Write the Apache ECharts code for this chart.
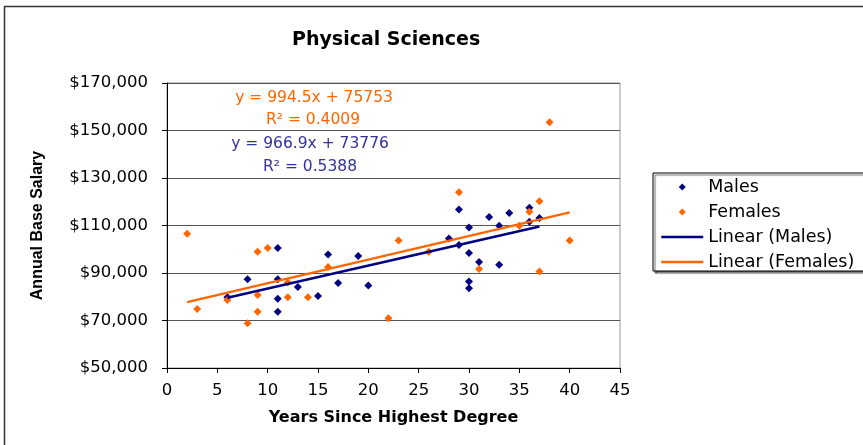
<!DOCTYPE html>
<html>
<head>
<meta charset="utf-8">
<title>Physical Sciences</title>
<script src="https://cdn.jsdelivr.net/npm/echarts@6/dist/echarts.min.js"></script>
<style>
  html, body { margin: 0; padding: 0; background: #fff; }
  #chart { width: 863px; height: 445px; }
</style>
</head>
<body>
<div id="chart"></div>
<script>
  // years since highest degree -> annual base salary
  var maleYears = [6, 8, 11, 11, 11, 11, 13, 15, 16, 17, 19, 20, 28, 29, 29, 30, 30, 30, 30, 31, 32, 33, 33, 34, 36, 36, 37];
  var maleSalary = [79800, 87400, 100500, 87400, 79200, 73700, 84100, 80300, 97800, 85800, 97200, 84700, 104500, 116700, 101800,
    109200, 98400, 86400, 83600, 94600, 113600, 109900, 93500, 115300, 117500, 111600, 113200];

  var femaleYears = [2, 3, 6, 8, 9, 9, 9, 10, 12, 12, 14, 16, 22, 23, 26, 29, 31, 35, 36, 37, 37, 38, 40];
  var femaleSalary = [106500, 74800, 78600, 68800, 98900, 80700, 73700, 100500, 86000, 79800, 79800, 92500, 71000, 103700,
    98900, 124000, 91700, 109900, 115800, 120200, 90600, 153500, 103700];

  // trendline coefficients as printed on the chart
  var maleFit = { slope: 966.9, intercept: 73776, r2: '0.5388' };
  var femaleFit = { slope: 994.5, intercept: 75753, r2: '0.4009' };

  var seriesNames = ['Males', 'Females', 'Linear (Males)', 'Linear (Females)'];

  var MALE = '#000080', FEMALE = '#ff6600';
  // diamond as a path so the legend keeps it square
  var DIAMOND = 'path://M0,-1L1,0L0,1L-1,0Z';
  var noMarker = { color: 'rgba(0,0,0,0)', borderWidth: 0 };

  function pairs(xs, ys) {
    return xs.map(function (x, i) { return [x, ys[i]]; });
  }
  function trend(fit, xs) {
    var lo = Math.min.apply(null, xs), hi = Math.max.apply(null, xs);
    return [[lo, fit.slope * lo + fit.intercept], [hi, fit.slope * hi + fit.intercept]];
  }
  function eq(fit) {
    return 'y = ' + fit.slope + 'x + ' + fit.intercept;
  }
  function money(v) {
    return '$' + v.toLocaleString('en-US');
  }

  var chart = echarts.init(document.getElementById('chart'));
  chart.setOption({
    animation: false,
    backgroundColor: '#fff',
    title: {
      text: 'Physical Sciences',
      left: 287, top: 26,
      textStyle: { fontFamily: 'DejaVu Sans', fontWeight: 'bold', fontSize: 19, color: '#000' }
    },
    legend: {
      orient: 'vertical',
      left: 653, top: 173,
      padding: [5, 40, 0, 7],
      itemWidth: 42, itemHeight: 7, itemGap: 7,
      symbolKeepAspect: true,
      backgroundColor: '#fff',
      borderColor: '#000', borderWidth: 1,
      shadowColor: 'rgba(0,0,0,0.6)', shadowBlur: 1, shadowOffsetX: 2, shadowOffsetY: 2,
      textStyle: { fontFamily: 'DejaVu Sans', fontSize: 17.5, lineHeight: 17, color: '#000' },
      data: [
        { name: seriesNames[0], icon: DIAMOND },
        { name: seriesNames[1], icon: DIAMOND },
        { name: seriesNames[2], itemStyle: noMarker, lineStyle: { width: 2.5 } },
        { name: seriesNames[3], itemStyle: noMarker, lineStyle: { width: 2.5 } }
      ]
    },
    grid: {
      left: 167, right: 243, top: 83, bottom: 77,
      show: true, borderColor: '#999', borderWidth: 1
    },
    xAxis: {
      type: 'value', min: 0, max: 45, interval: 5,
      name: 'Years Since Highest Degree', nameLocation: 'middle', nameGap: 42,
      nameTextStyle: { fontFamily: 'DejaVu Sans', fontWeight: 'bold', fontSize: 16, color: '#000' },
      axisLine: { lineStyle: { color: '#000', width: 1 } },
      axisTick: { length: 5, lineStyle: { color: '#000' } },
      axisLabel: { margin: 14, fontFamily: 'DejaVu Sans', fontSize: 16.5, color: '#000' },
      splitLine: { show: false }
    },
    yAxis: {
      type: 'value', min: 50000, max: 170000, interval: 20000,
      name: 'Annual Base Salary', nameLocation: 'middle', nameGap: 121, nameRotate: 90,
      nameTextStyle: { fontFamily: 'Liberation Sans', fontWeight: 'bold', fontSize: 16, color: '#000' },
      axisLine: { show: true, lineStyle: { color: '#000', width: 1 } },
      axisTick: { show: true, length: 5, lineStyle: { color: '#000' } },
      axisLabel: { margin: 19, fontFamily: 'DejaVu Sans', fontSize: 16.5, color: '#000', formatter: money },
      splitLine: { lineStyle: { color: '#555', width: 1 } }
    },
    graphic: [
      { type: 'rect', z: -10, silent: true,
        shape: { x: 4.5, y: 6.5, width: 880, height: 460 },
        style: { fill: 'none', stroke: '#333', lineWidth: 1.5 } },
      { type: 'text', x: 314, y: 98,
        style: { text: eq(femaleFit), fill: FEMALE, font: '15.5px "DejaVu Sans"', align: 'center', verticalAlign: 'middle' } },
      { type: 'text', x: 313, y: 120,
        style: { text: 'R\u00b2 = ' + femaleFit.r2, fill: FEMALE, font: '15.5px "DejaVu Sans"', align: 'center', verticalAlign: 'middle' } },
      { type: 'text', x: 310, y: 144,
        style: { text: eq(maleFit), fill: '#333399', font: '15.5px "DejaVu Sans"', align: 'center', verticalAlign: 'middle' } },
      { type: 'text', x: 310, y: 167,
        style: { text: 'R\u00b2 = ' + maleFit.r2, fill: '#333399', font: '15.5px "DejaVu Sans"', align: 'center', verticalAlign: 'middle' } }
    ],
    series: [
      {
        name: seriesNames[0], type: 'scatter',
        symbol: DIAMOND, symbolSize: [8, 8],
        itemStyle: { color: MALE, opacity: 1 },
        data: pairs(maleYears, maleSalary)
      },
      {
        name: seriesNames[1], type: 'scatter',
        symbol: DIAMOND, symbolSize: [8, 8],
        itemStyle: { color: FEMALE, opacity: 1 },
        data: pairs(femaleYears, femaleSalary)
      },
      {
        name: seriesNames[2], type: 'line', z: 5,
        symbol: 'none',
        lineStyle: { color: MALE, width: 2.5 },
        itemStyle: { color: MALE },
        data: trend(maleFit, maleYears)
      },
      {
        name: seriesNames[3], type: 'line', z: 5,
        symbol: 'none',
        lineStyle: { color: FEMALE, width: 2.5 },
        itemStyle: { color: FEMALE },
        data: trend(femaleFit, femaleYears)
      }
    ]
  });
</script>
</body>
</html>
